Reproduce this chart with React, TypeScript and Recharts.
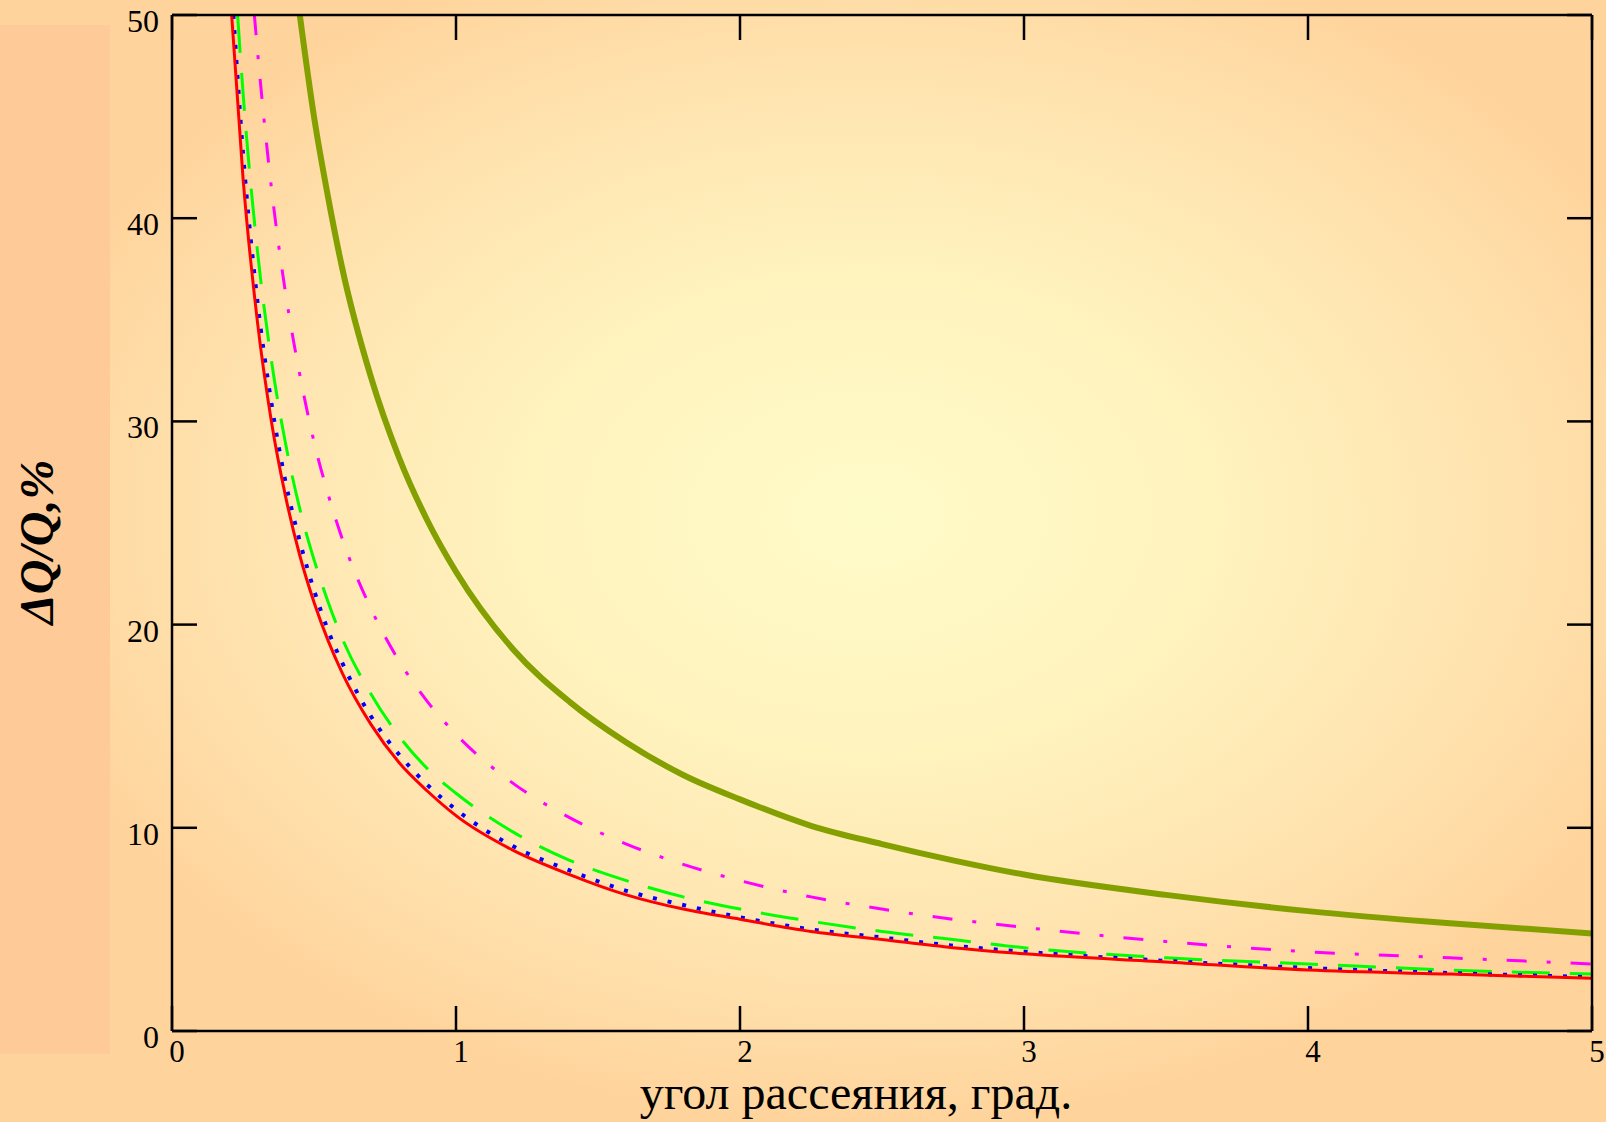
import { LineChart, Line, XAxis, YAxis, Label } from "recharts";

// scattering angle, degrees
const angles = [0.25, 0.3, 0.35, 0.4, 0.45, 0.5, 0.55, 0.6, 0.7, 0.8, 0.9, 1, 1.2, 1.4, 1.6, 1.8, 2, 2.25, 2.5, 2.75, 3, 3.5, 4, 4.5, 5];

// ΔQ/Q, % (null = above the top of the frame)
const redVals = [42.0, 35.0, 30.0, 26.3, 23.4, 21.1, 19.2, 17.6, 15.1, 13.2, 11.8, 10.6, 8.9, 7.7, 6.7, 6.0, 5.5, 4.9, 4.5, 4.1, 3.8, 3.4, 3.0, 2.8, 2.6];
const blueVals = [43.2, 36.0, 30.9, 27.0, 24.1, 21.7, 19.7, 18.1, 15.5, 13.6, 12.1, 10.9, 9.1, 7.9, 6.9, 6.2, 5.6, 5.0, 4.6, 4.2, 3.9, 3.45, 3.1, 2.85, 2.65];
const greenVals = [46.2, 38.5, 33.0, 28.9, 25.7, 23.2, 21.1, 19.3, 16.6, 14.5, 12.9, 11.7, 9.8, 8.4, 7.4, 6.6, 6.0, 5.4, 4.9, 4.5, 4.1, 3.6, 3.3, 3.0, 2.8];
const magentaVals = [null, 48.4, 41.5, 36.3, 32.3, 29.0, 26.4, 24.2, 20.8, 18.2, 16.2, 14.6, 12.2, 10.5, 9.2, 8.2, 7.4, 6.6, 6.0, 5.5, 5.1, 4.4, 3.9, 3.6, 3.3];
const oliveVals = [null, null, null, null, 50.0, 45.0, 41.0, 37.5, 32.2, 28.2, 25.1, 22.6, 18.8, 16.2, 14.2, 12.6, 11.4, 10.1, 9.2, 8.4, 7.7, 6.7, 5.9, 5.3, 4.8];

// angle where each curve leaves the top edge (ΔQ/Q = 50)
const redTop = 0.21;
const blueTop = 0.216;
const greenTop = 0.231;
const magentaTop = 0.29;

const xTicks = [0, 1, 2, 3, 4, 5];
const yTicks = [0, 10, 20, 30, 40, 50];

const PLOT = { left: 172, right: 1592, top: 15, bottom: 1031 };
const TICK = 25;
const FONT = '"Liberation Serif", "Times New Roman", serif';
const AXIS = { stroke: "#000", strokeWidth: 2.5 };

function build(top: number | null, vals: (number | null)[]) {
  const pts: { x: number; y: number }[] = [];
  if (top !== null) pts.push({ x: top, y: 50 });
  angles.forEach((a, i) => {
    const v = vals[i];
    if (v !== null) pts.push({ x: a, y: v });
  });
  return pts;
}

const LeftTick = (p: any) => (
  <g>
    <line x1={PLOT.left} x2={PLOT.left + TICK} y1={p.y} y2={p.y} {...AXIS} />
    <text x={159} y={p.y + 6} textAnchor="end" dominantBaseline="central" fontSize={32} fontFamily={FONT} fill="#000">
      {p.payload.value}
    </text>
  </g>
);

const RightTick = (p: any) => (
  <line x1={PLOT.right} x2={PLOT.right - TICK} y1={p.y} y2={p.y} {...AXIS} />
);

const BottomTick = (p: any) => (
  <g>
    <line x1={p.x} x2={p.x} y1={PLOT.bottom} y2={PLOT.bottom - TICK} {...AXIS} />
    <text x={p.x + 5} y={1051} textAnchor="middle" dominantBaseline="central" fontSize={31} fontFamily={FONT} fill="#000">
      {p.payload.value}
    </text>
  </g>
);

const TopTick = (p: any) => (
  <line x1={p.x} x2={p.x} y1={PLOT.top} y2={PLOT.top + TICK} {...AXIS} />
);

export default function App() {
  const series = [
    { key: "olive", data: build(null, oliveVals), color: "#84A000", width: 6, dash: undefined },
    { key: "magenta", data: build(magentaTop, magentaVals), color: "#FF00FF", width: 3, dash: "20 20 4 20" },
    { key: "green", data: build(greenTop, greenVals), color: "#00FF00", width: 3, dash: "38 20" },
    { key: "blue", data: build(blueTop, blueVals), color: "#0000FF", width: 4, dash: "4 11" },
    { key: "red", data: build(redTop, redVals), color: "#FF0000", width: 3, dash: undefined },
  ];

  return (
    <div
      style={{
        position: "absolute",
        left: 0,
        top: 0,
        width: 1606,
        height: 1122,
        overflow: "hidden",
        background:
          "radial-gradient(ellipse farthest-side at 54% 46%, #FFFBC9 0%, #FFF3BE 40%, #FFE2AE 75%, #FFD49C 100%)",
      }}
    >
      <div style={{ position: "absolute", left: 0, top: 25, width: 110, height: 1029, background: "#FECB98" }} />
      <div style={{ position: "absolute", left: 0, top: 0 }}>
        <LineChart width={1606} height={1122} margin={{ top: 0, right: 0, bottom: 0, left: 0 }}>
          <XAxis
            xAxisId="b"
            type="number"
            dataKey="x"
            domain={[0, 5]}
            ticks={xTicks}
            interval={0}
            height={91}
            tickLine={false}
            axisLine={AXIS}
            tick={(p: any) => <BottomTick {...p} />}
            allowDataOverflow
          >
            <Label
              content={() => (
                <text x={856} y={1109} textAnchor="middle" fontSize={48} fontFamily={FONT} fill="#000">
                  угол рассеяния, град.
                </text>
              )}
            />
          </XAxis>
          <XAxis
            xAxisId="t"
            orientation="top"
            type="number"
            dataKey="x"
            domain={[0, 5]}
            ticks={xTicks}
            interval={0}
            height={15}
            tickLine={false}
            axisLine={AXIS}
            tick={(p: any) => <TopTick {...p} />}
            allowDataOverflow
          />
          <YAxis
            yAxisId="l"
            type="number"
            domain={[0, 50]}
            ticks={yTicks}
            interval={0}
            width={172}
            tickLine={false}
            axisLine={AXIS}
            tick={(p: any) => <LeftTick {...p} />}
            allowDataOverflow
          >
            <Label
              content={() => (
                <text
                  x={36}
                  y={542}
                  transform="rotate(-90 36 542)"
                  textAnchor="middle"
                  dominantBaseline="central"
                  fontSize={48}
                  fontWeight="bold"
                  fontStyle="italic"
                  fontFamily={FONT}
                  fill="#000"
                >
                  ΔQ/Q,%
                </text>
              )}
            />
          </YAxis>
          <YAxis
            yAxisId="r"
            orientation="right"
            type="number"
            domain={[0, 50]}
            ticks={yTicks}
            interval={0}
            width={14}
            tickLine={false}
            axisLine={AXIS}
            tick={(p: any) => <RightTick {...p} />}
            allowDataOverflow
          />
          {series.map((s) => (
            <Line
              key={s.key}
              xAxisId="b"
              yAxisId="l"
              data={s.data}
              dataKey="y"
              type="monotone"
              stroke={s.color}
              strokeWidth={s.width}
              strokeDasharray={s.dash}
              dot={false}
              activeDot={false}
              isAnimationActive={false}
            />
          ))}
        </LineChart>
      </div>
    </div>
  );
}
